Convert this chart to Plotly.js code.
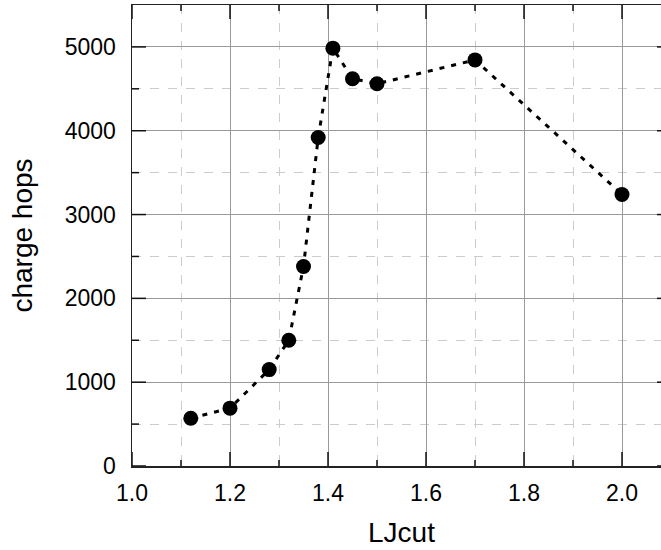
<!DOCTYPE html>
<html>
<head>
<meta charset="utf-8">
<script src="https://cdn.plot.ly/plotly-3.0.1.min.js"></script>
<style>
html, body { margin: 0; padding: 0; overflow: hidden; background: #fff; }
#chart { width: 672px; height: 550px; }
</style>
</head>
<body>
<div id="chart"></div>
<script>
const ljcut = [1.12, 1.20, 1.28, 1.32, 1.35, 1.38, 1.41, 1.45, 1.50, 1.70, 2.00];
const chargeHops = [570, 690, 1150, 1500, 2380, 3920, 4985, 4620, 4560, 4845, 3240];
const xTitle = 'LJcut';
const yTitle = 'charge hops';
const xMajorTicks = [1.0, 1.2, 1.4, 1.6, 1.8, 2.0];
const xMinorTicks = [1.1, 1.3, 1.5, 1.7, 1.9];
const yMajorTicks = [0, 1000, 2000, 3000, 4000, 5000];
const yMinorTicks = [500, 1500, 2500, 3500, 4500];

const font = 'Liberation Sans, Arial, sans-serif';

const trace = {
  x: ljcut,
  y: chargeHops,
  type: 'scatter',
  mode: 'lines+markers',
  line: { color: '#000', width: 3, dash: '5px,7px' },
  marker: { color: '#000', size: 15 },
  showlegend: false
};

// inside tick marks drawn as pixel-sized shapes anchored at tick values
const shapes = [];
const tickStyle = { color: '#111', width: 1.5 };
function xTick(v, len) {
  shapes.push({ type: 'line', xref: 'x', yref: 'paper', ysizemode: 'pixel', yanchor: 0, x0: v, x1: v, y0: 0, y1: len, line: tickStyle, layer: 'above' });
  shapes.push({ type: 'line', xref: 'x', yref: 'paper', ysizemode: 'pixel', yanchor: 1, x0: v, x1: v, y0: 0, y1: -len, line: tickStyle, layer: 'above' });
}
function yTick(v, len) {
  shapes.push({ type: 'line', xref: 'paper', yref: 'y', xsizemode: 'pixel', xanchor: 0, y0: v, y1: v, x0: 0, x1: len, line: tickStyle, layer: 'above' });
  shapes.push({ type: 'line', xref: 'paper', yref: 'y', xsizemode: 'pixel', xanchor: 1, y0: v, y1: v, x0: 0, x1: -len, line: tickStyle, layer: 'above' });
}
xMajorTicks.forEach(v => xTick(v, 14));
xMinorTicks.forEach(v => xTick(v, 6));
yMajorTicks.forEach(v => yTick(v, 14));
yMinorTicks.forEach(v => yTick(v, 7));

const layout = {
  width: 672,
  height: 550,
  margin: { l: 132, r: 1, t: 5, b: 84 },
  paper_bgcolor: '#fff',
  plot_bgcolor: '#fff',
  shapes: shapes,
  xaxis: {
    showline: true, linecolor: '#222', linewidth: 1.5, mirror: true,
    ticks: '',
    showgrid: true, gridcolor: '#999', gridwidth: 1, zeroline: false,
    tickfont: { family: font, size: 23, color: '#000' },
    range: [1.0, 2.1],
    tickvals: xMajorTicks,
    ticktext: xMajorTicks.map(v => v.toFixed(1)),
    ticklabelstandoff: 6,
    minor: { tickvals: xMinorTicks, showgrid: true, gridcolor: '#ccc', griddash: 'dash', gridwidth: 1 },
    title: { text: xTitle, font: { family: font, size: 28, color: '#000' }, standoff: 17 }
  },
  yaxis: {
    showline: true, linecolor: '#222', linewidth: 1.5, mirror: true,
    ticks: '',
    showgrid: true, gridcolor: '#999', gridwidth: 1, zeroline: false,
    tickfont: { family: font, size: 23, color: '#000' },
    range: [0, 5500],
    tickvals: yMajorTicks,
    ticktext: yMajorTicks.map(v => String(v)),
    ticklabelstandoff: 10,
    minor: { tickvals: yMinorTicks, showgrid: true, gridcolor: '#ccc', griddash: 'dash', gridwidth: 1 },
    title: { text: yTitle, font: { family: font, size: 28, color: '#000' }, standoff: 24 }
  }
};

Plotly.newPlot('chart', [trace], layout, { displayModeBar: false, staticPlot: true });
</script>
</body>
</html>
